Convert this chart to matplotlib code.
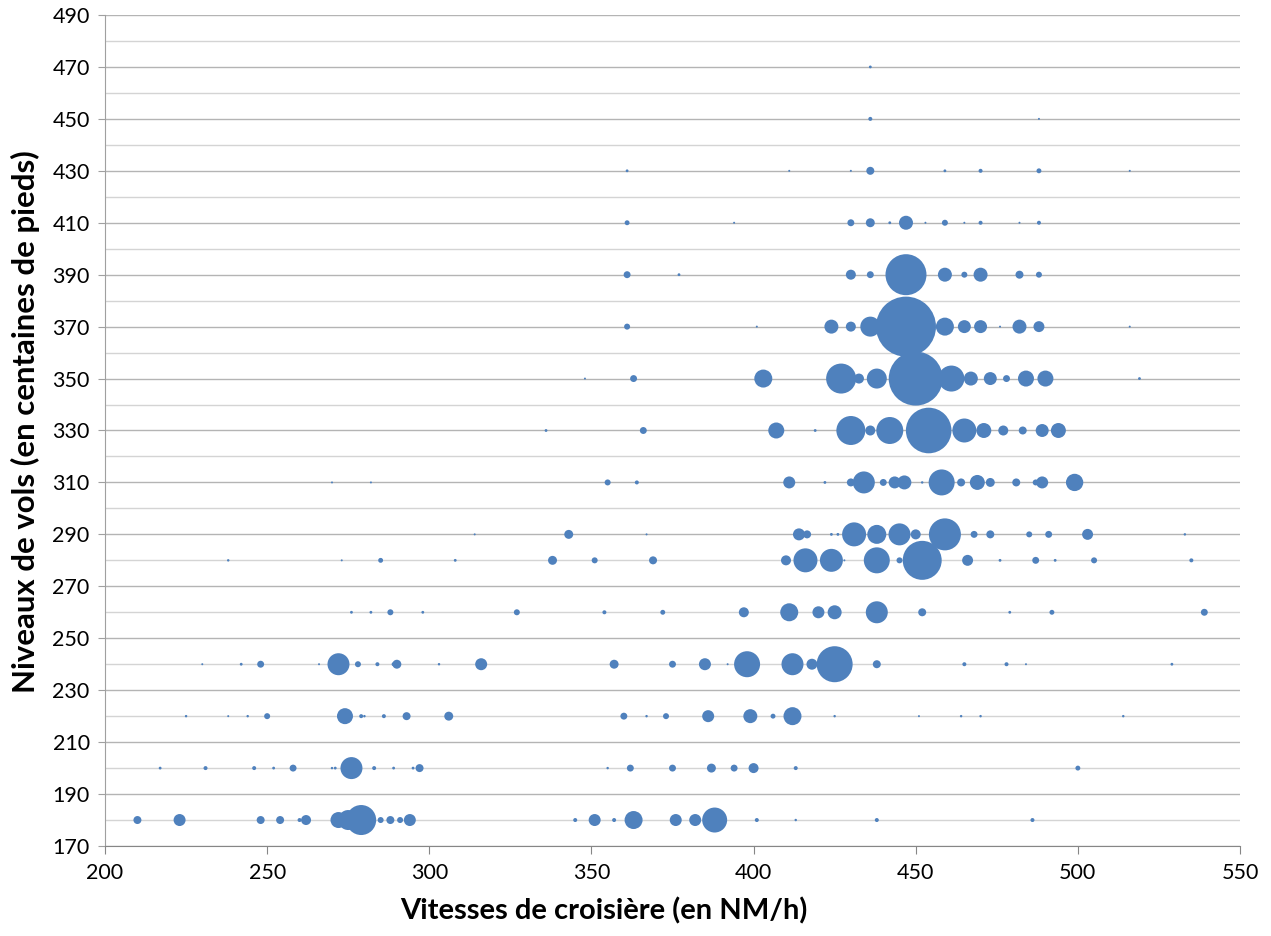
import matplotlib
matplotlib.use('Agg')
import matplotlib.pyplot as plt
from matplotlib.ticker import MultipleLocator

# --- Données : vitesses (NM/h) et poids (nombre de vols) par niveau de vol ---
v180 = [210, 223, 248, 254, 260, 262, 272, 275, 279, 285, 288, 291, 294, 345, 351, 357, 363, 376, 382, 388, 401, 413, 438, 486]
p180 = [16, 36, 16, 16, 4, 25, 64, 100, 225, 9, 16, 9, 36, 4, 36, 4, 81, 36, 36, 156, 4, 1.5, 4, 4]

v200 = [217, 231, 246, 252, 258, 270, 271, 276, 283, 289, 295, 297, 355, 362, 375, 387, 394, 400, 413, 500]
p200 = [2, 4, 4, 2, 12, 1.5, 2, 121, 4, 2, 2, 16, 1.5, 12, 12, 20, 12, 25, 4, 6]

v220 = [225, 238, 244, 250, 274, 279, 280, 286, 293, 306, 360, 367, 373, 386, 399, 406, 412, 425, 451, 464, 470, 514]
p220 = [1.5, 1, 1.5, 9, 64, 4, 1.5, 4, 16, 20, 12, 1.5, 9, 36, 49, 6, 81, 1.5, 1, 1.5, 1.5, 1.5]

v240 = [230, 242, 248, 266, 272, 278, 284, 289, 290, 303, 316, 357, 375, 385, 392, 398, 412, 418, 425, 438, 465, 478, 484, 529]
p240 = [1, 2, 12, 1, 121, 9, 4, 4, 20, 1.5, 36, 20, 12, 36, 1, 169, 121, 30, 324, 16, 4, 4, 1, 2]

v260 = [276, 282, 288, 298, 327, 354, 372, 397, 411, 420, 425, 438, 452, 479, 492, 539]
p260 = [2, 2, 9, 2, 9, 4, 6, 25, 81, 36, 49, 121, 16, 2, 6, 12]

v280 = [238, 273, 285, 308, 338, 351, 369, 410, 416, 424, 428, 438, 445, 452, 466, 476, 487, 493, 505, 535]
p280 = [1.5, 1, 6, 2, 20, 9, 16, 25, 144, 132, 1, 169, 9, 380, 30, 2, 12, 2, 9, 4]

v290 = [314, 343, 367, 414, 416.5, 424, 426, 431, 438, 445, 450, 459, 468, 473, 485, 491, 503, 533]
p290 = [1, 20, 1, 36, 16, 2, 2, 144, 90, 121, 25, 256, 12, 16, 9, 12, 30, 1.5]

v310 = [270, 282, 355, 364, 411, 422, 430, 434, 440, 443.5, 446.5, 452, 458, 464, 469, 473, 481, 487, 489, 499]
p310 = [1, 1, 9, 4, 36, 2, 16, 121, 12, 36, 49, 1.5, 169, 16, 56, 20, 16, 9, 36, 75]

v330 = [336, 366, 407, 419, 430, 436, 442, 454, 465, 471, 477, 483, 489, 494]
p330 = [2, 12, 64, 2, 210, 25, 182, 520, 144, 56, 25, 16, 42, 56]

v350 = [348, 363, 403, 427, 432.5, 438, 450, 461, 467, 473, 478, 484, 490, 519]
p350 = [1, 12, 81, 225, 25, 100, 729, 169, 49, 42, 12, 64, 64, 2]

v370 = [361, 401, 424, 430, 436, 447, 459, 465, 470, 476, 482, 488, 516]
p370 = [9, 1, 49, 25, 100, 900, 81, 42, 42, 1, 49, 30, 1]

v390 = [361, 377, 430, 436, 447, 459, 465, 470, 482, 488]
p390 = [12, 2, 25, 12, 420, 49, 9, 49, 16, 9]

v410 = [361, 394, 430, 436, 442, 447, 453, 459, 465, 470, 482, 488]
p410 = [6, 1, 12, 20, 2, 49, 1, 9, 1, 4, 1, 4]

v430 = [361, 411, 430, 436, 459, 470, 488, 516]
p430 = [2, 1, 1, 16, 2, 4, 6, 1]

v450 = [436, 488]
p450 = [4, 1]

v470 = [436]
p470 = [2]

niveaux = [180, 200, 220, 240, 260, 280, 290, 310, 330, 350, 370, 390, 410, 430, 450, 470]
vitesses = [v180, v200, v220, v240, v260, v280, v290, v310, v330, v350, v370, v390, v410, v430, v450, v470]
poids = [p180, p200, p220, p240, p260, p280, p290, p310, p330, p350, p370, p390, p410, p430, p450, p470]

x_ticks = [200, 250, 300, 350, 400, 450, 500, 550]
y_ticks = list(range(170, 491, 20))

# --- Figure ---
plt.rcParams['font.family'] = ['Lato', 'DejaVu Sans']
W, H = 1271, 936
fig = plt.figure(figsize=(W / 100, H / 100), dpi=100)
ax = fig.add_axes([105 / W, 1 - 846 / H, 1135 / W, 831 / H])

pmax = max(max(p) for p in poids)
rmax_px = 30.0
smax = (2 * rmax_px * 72 / 100) ** 2
color = '#4F81BD'

for niv, vs, ps in zip(niveaux, vitesses, poids):
    sizes = [p / pmax * smax for p in ps]
    ax.scatter(vs, [niv] * len(vs), s=sizes, color=color, edgecolors='none', zorder=3)

ax.set_xlim(200, 550)
ax.set_ylim(170, 490)
ax.set_xticks(x_ticks)
ax.set_yticks(y_ticks)
ax.yaxis.set_minor_locator(MultipleLocator(10))

ax.set_axisbelow(True)
ax.yaxis.grid(True, which='major', color='#b4b4b4', linewidth=1.0)
ax.yaxis.grid(True, which='minor', color='#d4d4d4', linewidth=1.0)
ax.xaxis.grid(False)

for side in ['top', 'right']:
    ax.spines[side].set_visible(False)
ax.spines['left'].set_color('#a0a0a0')
ax.spines['bottom'].set_color('#868686')
ax.tick_params(axis='y', which='major', length=5, color='#a0a0a0', labelsize=15.5, pad=6)
ax.tick_params(axis='y', which='minor', length=0)
ax.tick_params(axis='x', which='major', length=6, color='#868686', labelsize=15.5, pad=6)

ax.set_xlabel('Vitesses de croisière (en NM/h)', fontsize=21, fontweight='bold')
ax.set_ylabel('Niveaux de vols (en centaines de pieds)', fontsize=22.4, fontweight='bold')
ax.xaxis.label.set_va('center')
ax.yaxis.label.set_va('center')
ax.xaxis.set_label_coords((604 - 105) / 1135, -(911 - 846) / 831)
ax.yaxis.set_label_coords((25 - 105) / 1135, (846 - 422) / 831)

fig.savefig('out.png', dpi=100)
